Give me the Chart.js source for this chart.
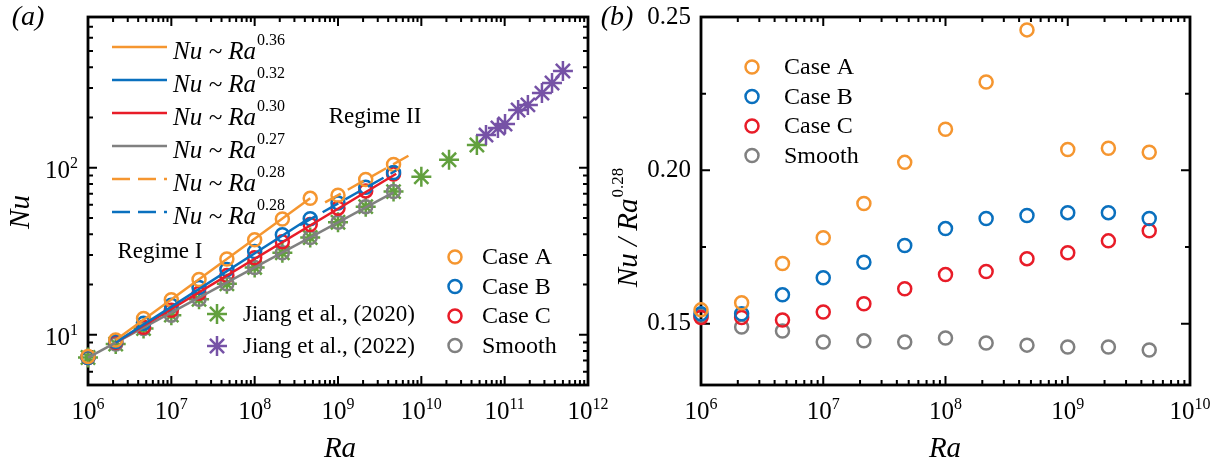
<!DOCTYPE html>
<html>
<head>
<meta charset="utf-8">
<script src="https://cdn.jsdelivr.net/npm/chart.js@4.4.1/dist/chart.umd.min.js"></script>
<style>
body { margin: 0; background: #fff; }
#wrap { position: relative; width: 1229px; height: 471px; }
#boxA { position: absolute; left: 0; top: 0; }
#boxB { position: absolute; left: 600px; top: 0; }
</style>
</head>
<body>
<div id="wrap">
  <div id="boxA"><canvas id="chartA" width="629" height="471"></canvas></div>
  <div id="boxB"><canvas id="chartB" width="629" height="471"></canvas></div>
</div>
<script>
// Ra values of the simulations
var ra = [1e6, 2.15e6, 4.64e6, 1e7, 2.15e7, 4.64e7, 1e8, 2.15e8, 4.64e8, 1e9, 2.15e9, 4.64e9];

// panel (a): Nu
var nuCaseA = [7.4, 9.3, 12.5, 16.2, 21.4, 28.4, 37.1, 49.3, 65.6, 68.5, 85.1, 104.8];
var nuCaseB = [7.3, 9.1, 11.7, 15.0, 19.2, 24.6, 31.5, 39.7, 49.5, 61.6, 76.4, 93.8];
var nuCaseC = [7.3, 9.0, 11.1, 14.0, 17.7, 22.6, 28.9, 36.0, 45.7, 57.3, 72.7, 91.8];
var nuSmooth = [7.3, 8.8, 10.9, 13.1, 16.3, 20.2, 25.3, 31.0, 38.2, 47.2, 58.5, 72.0];

var raJiang2020 = [1e6, 2.15e6, 4.64e6, 1e7, 2.15e7, 4.64e7, 1e8, 2.15e8, 4.64e8, 1e9, 2.15e9, 4.64e9, 1e10, 2.15e10, 4.64e10];
var nuJiang2020 = [7.3, 8.8, 10.9, 13.1, 16.3, 20.2, 25.3, 31.0, 38.2, 47.2, 58.5, 72.0, 88.4, 111.6, 137];
var raJiang2022 = [5.97e10, 8.3e10, 1.01e11, 1.45e11, 1.9e11, 2.8e11, 3.7e11, 5.0e11];
var nuJiang2022 = [157, 173, 183, 222, 238, 280, 322, 380];

// fitted power laws (end points)
var fitRa036 = [2.15e6, 4.64e8], fitNu036 = [9.3, 65.6];
var fitRa032 = [2.15e6, 4.64e8], fitNu032 = [9.0, 50.2];
var fitRa030 = [2.15e6, 5e9], fitNu030 = [9.0, 92.1];
var fitRa027 = [1e6, 4.64e9], fitNu027 = [7.3, 71.3];
var fitRa028A = [7e8, 7e9], fitNu028A = [62, 118];
var fitRa028B = [3.5e8, 5e9], fitNu028B = [45.4, 96.3];
var fitExps = ['0.36', '0.32', '0.30', '0.27', '0.28', '0.28'];

// panel (b): Nu / Ra^0.28
var ratioCaseA = [0.1545, 0.1568, 0.1696, 0.1780, 0.1892, 0.2026, 0.2134, 0.2288, 0.2458, 0.2068, 0.2072, 0.2059];
var ratioCaseB = [0.1532, 0.1532, 0.1594, 0.1650, 0.1700, 0.1755, 0.1810, 0.1843, 0.1853, 0.1862, 0.1862, 0.1843];
var ratioCaseC = [0.1520, 0.1520, 0.1512, 0.1538, 0.1565, 0.1614, 0.1660, 0.1670, 0.1712, 0.1731, 0.1770, 0.1803];
var ratioSmooth = [0.1525, 0.1489, 0.1476, 0.1440, 0.1444, 0.1440, 0.1453, 0.1437, 0.1430, 0.1424, 0.1424, 0.1414];

var caseNames = ['Case A', 'Case B', 'Case C', 'Smooth'];
var jiangNames = ['Jiang et al., (2020)', 'Jiang et al., (2022)'];

var orange = 'rgb(245,150,48)';
var blue = 'rgb(10,112,190)';
var red = 'rgb(232,28,40)';
var gray = 'rgb(128,128,128)';
var green = 'rgb(98,160,62)';
var purple = 'rgb(118,82,166)';
var serif = '"Liberation Serif", "Times New Roman", serif';

function pts(xs, ys) {
    return xs.map(function (x, i) { return { x: x, y: ys[i] }; });
}

function fitLine(xs, ys, color, dash) {
    return { data: pts(xs, ys), showLine: true, pointRadius: 0, borderColor: color,
             borderWidth: 2.5, borderDash: dash || [], fill: false };
}

function circles(xs, ys, color) {
    return { data: pts(xs, ys), showLine: false, pointStyle: 'circle', pointRadius: 6.5,
             borderColor: color, backgroundColor: 'rgba(0,0,0,0)', borderWidth: 2.5 };
}

function stars(xs, ys, color) {
    return { data: pts(xs, ys), showLine: false, pointStyle: 'star', pointRadius: 10,
             borderColor: color, backgroundColor: color, borderWidth: 2.5 };
}

function logMinors(lo, hi) {
    var out = [];
    for (var e = Math.floor(Math.log10(lo)); e <= Math.ceil(Math.log10(hi)); e++) {
        for (var k = 2; k <= 9; k++) {
            var v = k * Math.pow(10, e);
            if (v > lo && v < hi) out.push(v);
        }
    }
    return out;
}

function drawPow(ctx, exp, x, y, align) {
    ctx.font = '25px ' + serif;
    var wb = ctx.measureText('10').width;
    ctx.font = '16px ' + serif;
    var we = ctx.measureText(exp).width;
    var left = align === 'center' ? x - (wb + we) / 2 : x - wb - we;
    ctx.textAlign = 'left';
    ctx.textBaseline = 'alphabetic';
    ctx.font = '25px ' + serif;
    ctx.fillText('10', left, y);
    ctx.font = '16px ' + serif;
    ctx.fillText(exp, left + wb, y - 10);
}

function drawCircle(ctx, x, y, color) {
    ctx.beginPath();
    ctx.arc(x, y, 6.5, 0, Math.PI * 2);
    ctx.strokeStyle = color;
    ctx.lineWidth = 2.5;
    ctx.stroke();
}

function drawStar(ctx, x, y, color) {
    ctx.strokeStyle = color;
    ctx.lineWidth = 2.5;
    ctx.beginPath();
    for (var i = 0; i < 4; i++) {
        var a = i * Math.PI / 4;
        ctx.moveTo(x - 10 * Math.cos(a), y - 10 * Math.sin(a));
        ctx.lineTo(x + 10 * Math.cos(a), y + 10 * Math.sin(a));
    }
    ctx.stroke();
}

function framePlugin(ax) {
    return {
        id: 'frame',
        beforeDatasetsDraw: function (chart) {
            var ctx = chart.ctx, a = chart.chartArea, sx = chart.scales.x, sy = chart.scales.y;
            ctx.save();
            ctx.strokeStyle = '#000';
            ctx.lineWidth = 2;
            ctx.beginPath();
            function tx(v, len) {
                var p = sx.getPixelForValue(v);
                ctx.moveTo(p, a.bottom); ctx.lineTo(p, a.bottom - len);
                ctx.moveTo(p, a.top); ctx.lineTo(p, a.top + len);
            }
            function ty(v, len) {
                var p = sy.getPixelForValue(v);
                ctx.moveTo(a.left, p); ctx.lineTo(a.left + len, p);
                ctx.moveTo(a.right, p); ctx.lineTo(a.right - len, p);
            }
            ax.xMajor.forEach(function (v) { tx(v, 9); });
            ax.xMinor.forEach(function (v) { tx(v, 5); });
            ax.yMajor.forEach(function (v) { ty(v, 9); });
            ax.yMinor.forEach(function (v) { ty(v, 5); });
            ctx.stroke();
            ctx.lineWidth = 2.8;
            ctx.strokeRect(a.left, a.top, a.right - a.left, a.bottom - a.top);

            // tick labels
            ctx.fillStyle = '#000';
            ax.xMajor.forEach(function (v) {
                drawPow(ctx, String(Math.round(Math.log10(v))), sx.getPixelForValue(v), a.bottom + 34, 'center');
            });
            ax.yMajor.forEach(function (v, i) {
                var p = sy.getPixelForValue(v);
                if (ax.yLabels) {
                    ctx.font = '25px ' + serif;
                    ctx.textAlign = 'right';
                    ctx.textBaseline = 'middle';
                    ctx.fillText(ax.yLabels[i], a.left - 10, p);
                } else {
                    drawPow(ctx, String(Math.round(Math.log10(v))), a.left - 10, p + 10, 'right');
                }
            });
            ctx.restore();
        },
        afterDraw: function (chart) {
            var ctx = chart.ctx;
            ctx.save();
            ctx.fillStyle = '#000';
            ax.extra(ctx, chart);
            ctx.restore();
        }
    };
}

function drawRotTitle(ctx, main, exp, x, y) {
    ctx.save();
    ctx.translate(x, y);
    ctx.rotate(-Math.PI / 2);
    ctx.font = 'italic 29px ' + serif;
    var wm = ctx.measureText(main).width;
    ctx.font = '17px ' + serif;
    var we = exp ? ctx.measureText(exp).width : 0;
    var left = -(wm + we) / 2;
    ctx.textAlign = 'left';
    ctx.textBaseline = 'alphabetic';
    ctx.font = 'italic 29px ' + serif;
    ctx.fillText(main, left, 9);
    if (exp) {
        ctx.font = '17px ' + serif;
        ctx.fillText(exp, left + wm + 1, -5);
    }
    ctx.restore();
}

function extraA(ctx, chart) {
    var colors = [orange, blue, red, gray, orange, blue];
    var dashed = [false, false, false, false, true, true];
    for (var i = 0; i < fitExps.length; i++) {
        var y = 47 + 33 * i;
        ctx.save();
        ctx.strokeStyle = colors[i];
        ctx.lineWidth = 2.5;
        ctx.setLineDash(dashed[i] ? [18, 8] : []);
        ctx.beginPath();
        ctx.moveTo(112, y); ctx.lineTo(167, y);
        ctx.stroke();
        ctx.restore();
        ctx.textAlign = 'left';
        ctx.textBaseline = 'alphabetic';
        ctx.font = 'italic 25px ' + serif;
        ctx.fillText('Nu ~ Ra', 173, y + 12);
        var w = ctx.measureText('Nu ~ Ra').width;
        ctx.font = '16px ' + serif;
        ctx.fillText(fitExps[i], 173 + w + 1, y - 2);
    }

    ctx.font = '23px ' + serif;
    ctx.textAlign = 'center';
    ctx.textBaseline = 'middle';
    ctx.fillText('Regime I', 160, 252);
    ctx.fillText('Regime II', 375, 117);

    var starCols = [green, purple];
    for (var j = 0; j < 2; j++) {
        drawStar(ctx, 217, 314 + 32 * j, starCols[j]);
        ctx.fillStyle = '#000';
        ctx.font = '23px ' + serif;
        ctx.textAlign = 'left';
        ctx.textBaseline = 'middle';
        ctx.fillText(jiangNames[j], 243, 315 + 32 * j);
    }
    var caseCols = [orange, blue, red, gray];
    for (var k = 0; k < 4; k++) {
        var cy = 257 + 29.5 * k;
        drawCircle(ctx, 455, cy, caseCols[k]);
        ctx.fillStyle = '#000';
        ctx.font = '24px ' + serif;
        ctx.fillText(caseNames[k], 482, cy + 1);
    }

    ctx.font = 'italic 28px ' + serif;
    ctx.textAlign = 'center';
    ctx.textBaseline = 'middle';
    ctx.fillText('(a)', 28, 18);
    ctx.font = 'italic 29px ' + serif;
    ctx.fillText('Ra', 340, 449);
    drawRotTitle(ctx, 'Nu', '', 20, 212);
}

function extraB(ctx, chart) {
    var caseCols = [orange, blue, red, gray];
    for (var k = 0; k < 4; k++) {
        var cy = 67 + 29.5 * k;
        drawCircle(ctx, 152, cy, caseCols[k]);
        ctx.fillStyle = '#000';
        ctx.font = '24px ' + serif;
        ctx.textAlign = 'left';
        ctx.textBaseline = 'middle';
        ctx.fillText(caseNames[k], 184, cy + 1);
    }
    ctx.font = 'italic 28px ' + serif;
    ctx.textAlign = 'center';
    ctx.textBaseline = 'middle';
    ctx.fillText('(b)', 17, 18);
    ctx.font = 'italic 29px ' + serif;
    ctx.fillText('Ra', 345, 449);
    drawRotTitle(ctx, 'Nu / Ra', '0.28', 28, 228);
}

var commonOpts = function (pad, xr, yr, yType) {
    return {
        responsive: false,
        animation: false,
        layout: { padding: pad },
        datasets: { scatter: { clip: false } },
        plugins: { legend: { display: false }, tooltip: { enabled: false } },
        scales: {
            x: { type: 'logarithmic', min: xr[0], max: xr[1], display: false },
            y: { type: yType, min: yr[0], max: yr[1], display: false }
        }
    };
};

var chartA = new Chart(document.getElementById('chartA').getContext('2d'), {
    type: 'scatter',
    data: {
        datasets: [
            fitLine(fitRa036, fitNu036, orange),
            fitLine(fitRa032, fitNu032, blue),
            fitLine(fitRa030, fitNu030, red),
            fitLine(fitRa027, fitNu027, gray),
            fitLine(fitRa028A, fitNu028A, orange, [18, 8]),
            fitLine(fitRa028B, fitNu028B, blue, [18, 8]),
            circles(ra, nuCaseA, orange),
            circles(ra, nuCaseB, blue),
            circles(ra, nuCaseC, red),
            circles(ra, nuSmooth, gray),
            stars(raJiang2022, nuJiang2022, purple),
            stars(raJiang2020, nuJiang2020, green)
        ]
    },
    options: commonOpts({ left: 88, top: 17, right: 41, bottom: 86 }, [1e6, 1e12], [5, 800], 'logarithmic'),
    plugins: [framePlugin({
        xMajor: [1e6, 1e7, 1e8, 1e9, 1e10, 1e11, 1e12],
        xMinor: logMinors(1e6, 1e12),
        yMajor: [10, 100],
        yMinor: logMinors(5, 800).concat([5]).filter(function (v) { return v < 800; }),
        extra: extraA
    })]
});

var chartB = new Chart(document.getElementById('chartB').getContext('2d'), {
    type: 'scatter',
    data: {
        datasets: [
            circles(ra, ratioCaseA, orange),
            circles(ra, ratioCaseB, blue),
            circles(ra, ratioCaseC, red),
            circles(ra, ratioSmooth, gray)
        ]
    },
    options: commonOpts({ left: 101, top: 17, right: 39, bottom: 86 }, [1e6, 1e10], [0.13, 0.25], 'linear'),
    plugins: [framePlugin({
        xMajor: [1e6, 1e7, 1e8, 1e9, 1e10],
        xMinor: logMinors(1e6, 1e10),
        yMajor: [0.15, 0.20, 0.25],
        yLabels: ['0.15', '0.20', '0.25'],
        yMinor: [0.175, 0.225],
        extra: extraB
    })]
});
</script>
</body>
</html>
